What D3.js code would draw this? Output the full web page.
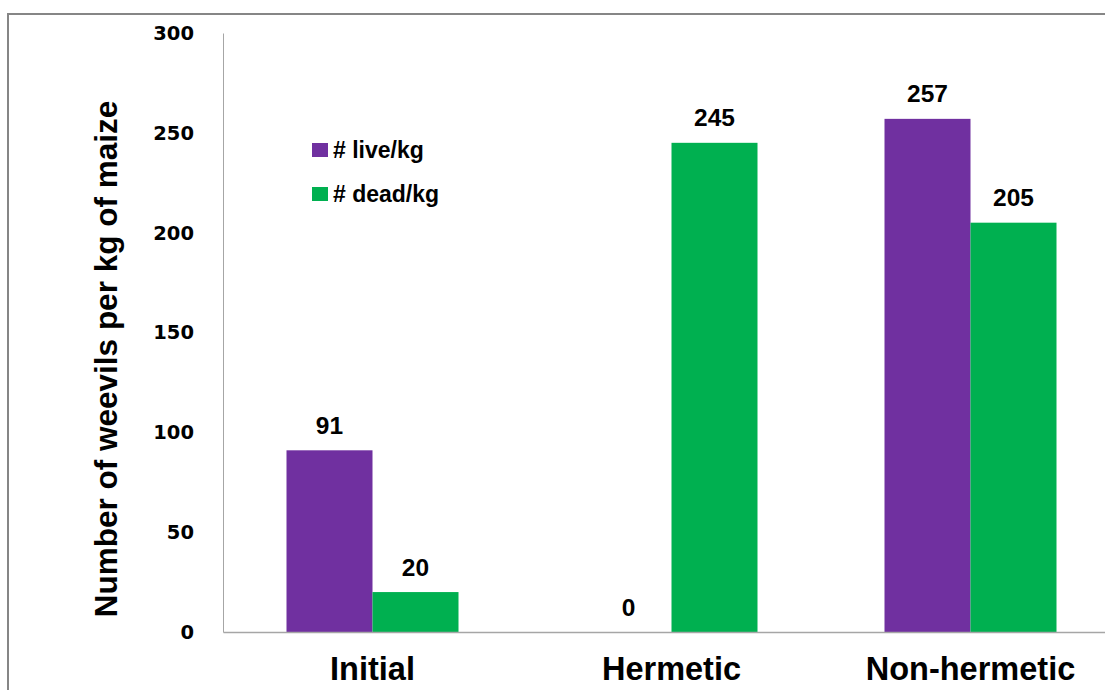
<!DOCTYPE html>
<html><head><meta charset="utf-8">
<script src="https://cdn.jsdelivr.net/npm/d3@7"></script>
<style>body{margin:0;background:#fff}svg{display:block}</style>
</head><body>
<svg id="c" width="1105" height="690"></svg>
<script>
const categories = ["Initial", "Hermetic", "Non-hermetic"];
const seriesNames = ["# live/kg", "# dead/kg"];
const liveValues = [91, 0, 257];
const deadValues = [20, 245, 205];
const yTicks = [0, 50, 100, 150, 200, 250, 300];
const colors = ["#7030A0", "#00B050"];

(function () {
const seriesValues = [liveValues, deadValues];
const svg = d3.select("#c");
const font = "'Liberation Sans', Arial, sans-serif";
const numFont = "'DejaVu Sans', Verdana, sans-serif";

// outer border (chart area cropped at right/bottom)
svg.append("rect").attr("x", 8).attr("y", 14).attr("width", 1200).attr("height", 800)
  .attr("fill", "none").attr("stroke", "#868686").attr("stroke-width", 2);

const mLeft = 223, mRight = 1120, mTop = 33, mBottom = 632;
const y = d3.scaleLinear().domain([0, 300]).range([mBottom, mTop]);
const x0 = d3.scaleBand().domain(categories).range([mLeft, mRight]).padding(0);
const groupW = 172;
const x1 = d3.scaleBand().domain(seriesNames)
  .range([(x0.bandwidth() - groupW) / 2, (x0.bandwidth() + groupW) / 2]).padding(0);

// bars
categories.forEach((cat, i) => {
  seriesNames.forEach((s, j) => {
    const v = seriesValues[j][i];
    svg.append("rect")
      .attr("x", x0(cat) + x1(s))
      .attr("y", y(v))
      .attr("width", x1.bandwidth())
      .attr("height", y(0) - y(v))
      .attr("fill", colors[j]);
    svg.append("text")
      .attr("x", x0(cat) + x1(s) + x1.bandwidth() / 2)
      .attr("y", y(v) - 16.5)
      .attr("text-anchor", "middle")
      .attr("font-family", font).attr("font-weight", "bold").attr("font-size", 24.5)
      .attr("fill", "#000")
      .text(v);
  });
});

// y axis
const yAxis = d3.axisLeft(y).tickValues(yTicks).tickSize(0).tickPadding(29);
const gy = svg.append("g").attr("transform", `translate(${mLeft},0)`).call(yAxis);
gy.select(".domain").attr("stroke", "#a6a6a6").attr("stroke-width", 1);
gy.selectAll("text").attr("font-family", numFont).attr("font-weight", "bold")
  .attr("font-size", 19.5).attr("fill", "#000").attr("dy", "0.33em");

// x axis
const xAxis = d3.axisBottom(x0).tickSize(0).tickPadding(25);
const gx = svg.append("g").attr("transform", `translate(0,${mBottom})`).call(xAxis);
gx.select(".domain").attr("stroke", "#a6a6a6").attr("stroke-width", 1.5);
gx.selectAll("text").attr("font-family", font).attr("font-weight", "bold")
  .attr("font-size", 32.5).attr("fill", "#000");

// y title
svg.append("text")
  .attr("transform", "translate(117,359) rotate(-90)")
  .attr("text-anchor", "middle")
  .attr("font-family", font).attr("font-weight", "bold").attr("font-size", 31.5)
  .attr("fill", "#000")
  .text("Number of weevils per kg of maize");

// legend
seriesNames.forEach((s, j) => {
  const ly = 150 + j * 44;
  svg.append("rect").attr("x", 312).attr("y", ly - 7).attr("width", 16).attr("height", 14)
    .attr("fill", colors[j]);
  svg.append("text").attr("x", 333).attr("y", ly + 7.5)
    .attr("font-family", font).attr("font-weight", "bold").attr("font-size", 23)
    .attr("fill", "#000").text(s);
});
})();
</script>
</body></html>
